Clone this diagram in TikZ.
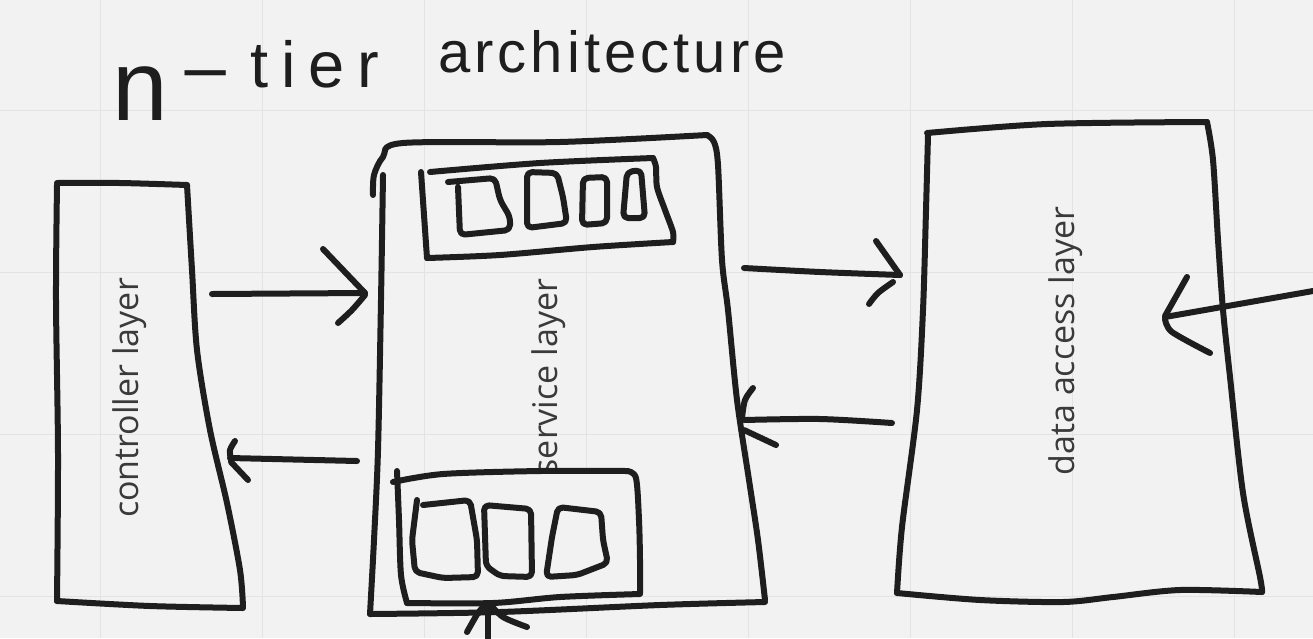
\documentclass[tikz,border=0pt]{standalone}
\usepackage{fontspec}
\setmainfont{Open Sans}
\newfontfamily\titlefont{Liberation Sans}
\definecolor{bg}{HTML}{F2F2F2}
\definecolor{gridc}{HTML}{E3E3E3}
\definecolor{ink}{HTML}{1E1E1E}
\definecolor{txt}{HTML}{3A3A3A}
\begin{document}
\begin{tikzpicture}[x=1pt,y=-1pt,
  sk/.style={draw=ink, line width=6pt, line cap=round, line join=round},
  lbl/.style={font=\fontsize{34}{34}\selectfont, text=txt, rotate=90, inner sep=0pt},
  ttl/.style={font=\titlefont, text=ink, inner sep=0pt, anchor=base west}]
\fill[bg] (0,0) rectangle (1313,638);
\useasboundingbox (0,0) rectangle (1313,638);
\foreach \x in {100,262,...,1234} \draw[gridc, line width=1pt] (\x,0) -- (\x,638);
\foreach \y in {110,272,434,596} \draw[gridc, line width=1pt] (0,\y) -- (1313,\y);

% title
\node[ttl] (title1) at (112,120) {{\fontsize{100}{100}\selectfont n}\hspace{10pt}\raisebox{30pt}{\fontsize{65}{65}\selectfont\scalebox{2.6}[1]{-}}\hspace{16pt}\raisebox{33pt}{\fontsize{65}{65}\selectfont\addfontfeature{LetterSpace=20}tier}};
\node[ttl] (title2) at (438,72) {\fontsize{58}{58}\selectfont\addfontfeature{LetterSpace=7}architecture};

% labels
\node[lbl] (ctl) at (130,398) {controller layer};
\node[lbl] (svc) at (549,377) {service layer};
\node[lbl] (dal) at (1066,341) {data access layer};

% controller layer
\draw[sk] plot[smooth] coordinates {(57,183) (120,183) (187,185)};
\draw[sk] plot[smooth] coordinates {(187,185) (192,270) (197,350) (210,430) (227,503) (240,570) (243,607)};
\draw[sk] plot[smooth] coordinates {(243,608) (150,606) (57,601)};
\draw[sk] plot[smooth] coordinates {(57,601) (58,453) (56,300) (57,185)};

% service layer
\draw[sk] plot[smooth] coordinates {(373,195) (374,175) (383,157) (403,143) (560,142) (707,135)};
\draw[sk] plot[smooth] coordinates {(707,135) (714,142) (718,165) (722,260) (728,310) (737,400) (749,480) (758,540) (765,600)};
\draw[sk] plot[smooth] coordinates {(383,175) (381,300) (378,450) (374,540) (370,614)};
\draw[sk] plot[smooth] coordinates {(370,614) (500,612) (660,605) (765,602)};

% top inner box
\draw[sk] plot[smooth] coordinates {(430,172) (540,163) (653,158)};
\draw[sk] plot[smooth] coordinates {(653,158) (656,167) (657,187) (665,210) (673,232) (673,242)};
\draw[sk] plot[smooth] coordinates {(673,242) (593,247) (500,255) (427,258)};
\draw[sk] plot[smooth] coordinates {(427,258) (424,215) (421,172)};
\draw[sk, rounded corners=5pt] (448,182) -- (495,178) -- (500,200) -- (510,217) -- (510,230) -- (460,235) -- (458,187);
\draw[sk, rounded corners=5pt] (527,172) -- (557,173) -- (563,197) -- (567,223) -- (527,228) -- cycle;
\draw[sk, rounded corners=5pt] (583,178) -- (607,177) -- (607,223) -- (582,225) -- cycle;
\draw[sk, rounded corners=5pt] (627,172) -- (641,170) -- (645,218) -- (623,218) -- cycle;

% bottom inner box
\fill[bg] (397,473) -- (627,471) -- (640,483) -- (640,594) -- (493,603) -- (407,603) -- cycle;
\draw[sk] plot[smooth] coordinates {(393,482) (443,474) (540,471) (627,471)};
\draw[sk] plot[smooth] coordinates {(627,471) (636,478) (639,520) (640,560) (640,593)};
\draw[sk] plot[smooth] coordinates {(640,594) (560,597) (493,603) (407,603)};
\draw[sk] plot[smooth] coordinates {(407,603) (401,575) (399,520) (397,471)};
\draw[sk, rounded corners=5pt] (423,505) -- (470,500) -- (477,540) -- (478,577) -- (443,578) -- (415,572) -- (412,540) -- (417,500);
\draw[sk, rounded corners=5pt] (484,505) -- (531,509) -- (532,577) -- (500,576) -- (486,566) -- cycle;
\draw[sk, rounded corners=5pt] (558,507) -- (601,512) -- (603,540) -- (608,563) -- (577,575) -- (546,577) -- (552,537) -- cycle;

% data access layer
\draw[sk] plot[smooth] coordinates {(927,133) (1047,124) (1207,122)};
\draw[sk] plot[smooth] coordinates {(1207,122) (1213,160) (1218,240) (1223,310) (1230,377) (1243,493) (1260,577) (1262,592)};
\draw[sk] plot[smooth] coordinates {(1262,592) (1180,590) (1113,597) (1063,602) (980,600) (897,593)};
\draw[sk] plot[smooth] coordinates {(897,593) (902,527) (917,410) (923,310) (926,210) (928,135)};

% arrow endpoints
\coordinate (a1s) at (212,294); \coordinate (a1e) at (365,293);
\coordinate (a2s) at (357,461); \coordinate (a2e) at (230,458);
\coordinate (a3s) at (744,268); \coordinate (a3e) at (900,275);
\coordinate (a4s) at (892,423); \coordinate (a4e) at (744,420);
\coordinate (a5s) at (1313,291); \coordinate (a5e) at (1165,317);
\coordinate (a6s) at (488,640); \coordinate (a6e) at (488,603);

% arrows
\draw[sk] (a1s) -- (a1e);
\draw[sk] (323,249) -- (a1e);
\draw[sk] plot[smooth] coordinates {(365,295) (352,310) (338,323)};

\draw[sk] (a2s) -- (a2e);
\draw[sk] plot[smooth] coordinates {(235,441) (230,450) (231,460)};
\draw[sk] (231,462) -- (248,480);

\draw[sk] plot[smooth] coordinates {(a3s) (820,272) (a3e)};
\draw[sk] (876,241) -- (a3e);
\draw[sk] plot[smooth] coordinates {(893,282) (878,293) (869,304)};

\draw[sk] plot[smooth] coordinates {(a4s) (820,419) (a4e)};
\draw[sk] plot[smooth] coordinates {(753,388) (745,400) (742,418)};
\draw[sk] (744,430) -- (776,445);

\draw[sk] (a5s) -- (a5e);
\draw[sk] (1187,277) -- (1165,316);
\draw[sk] plot[smooth] coordinates {(1165,319) (1172,332) (1210,353)};

\draw[sk] (a6s) -- (a6e);
\draw[sk] plot[smooth] coordinates {(467,632) (478,613) (487,603)};
\draw[sk] plot[smooth] coordinates {(489,603) (503,617) (527,627)};
\end{tikzpicture}
\end{document}
